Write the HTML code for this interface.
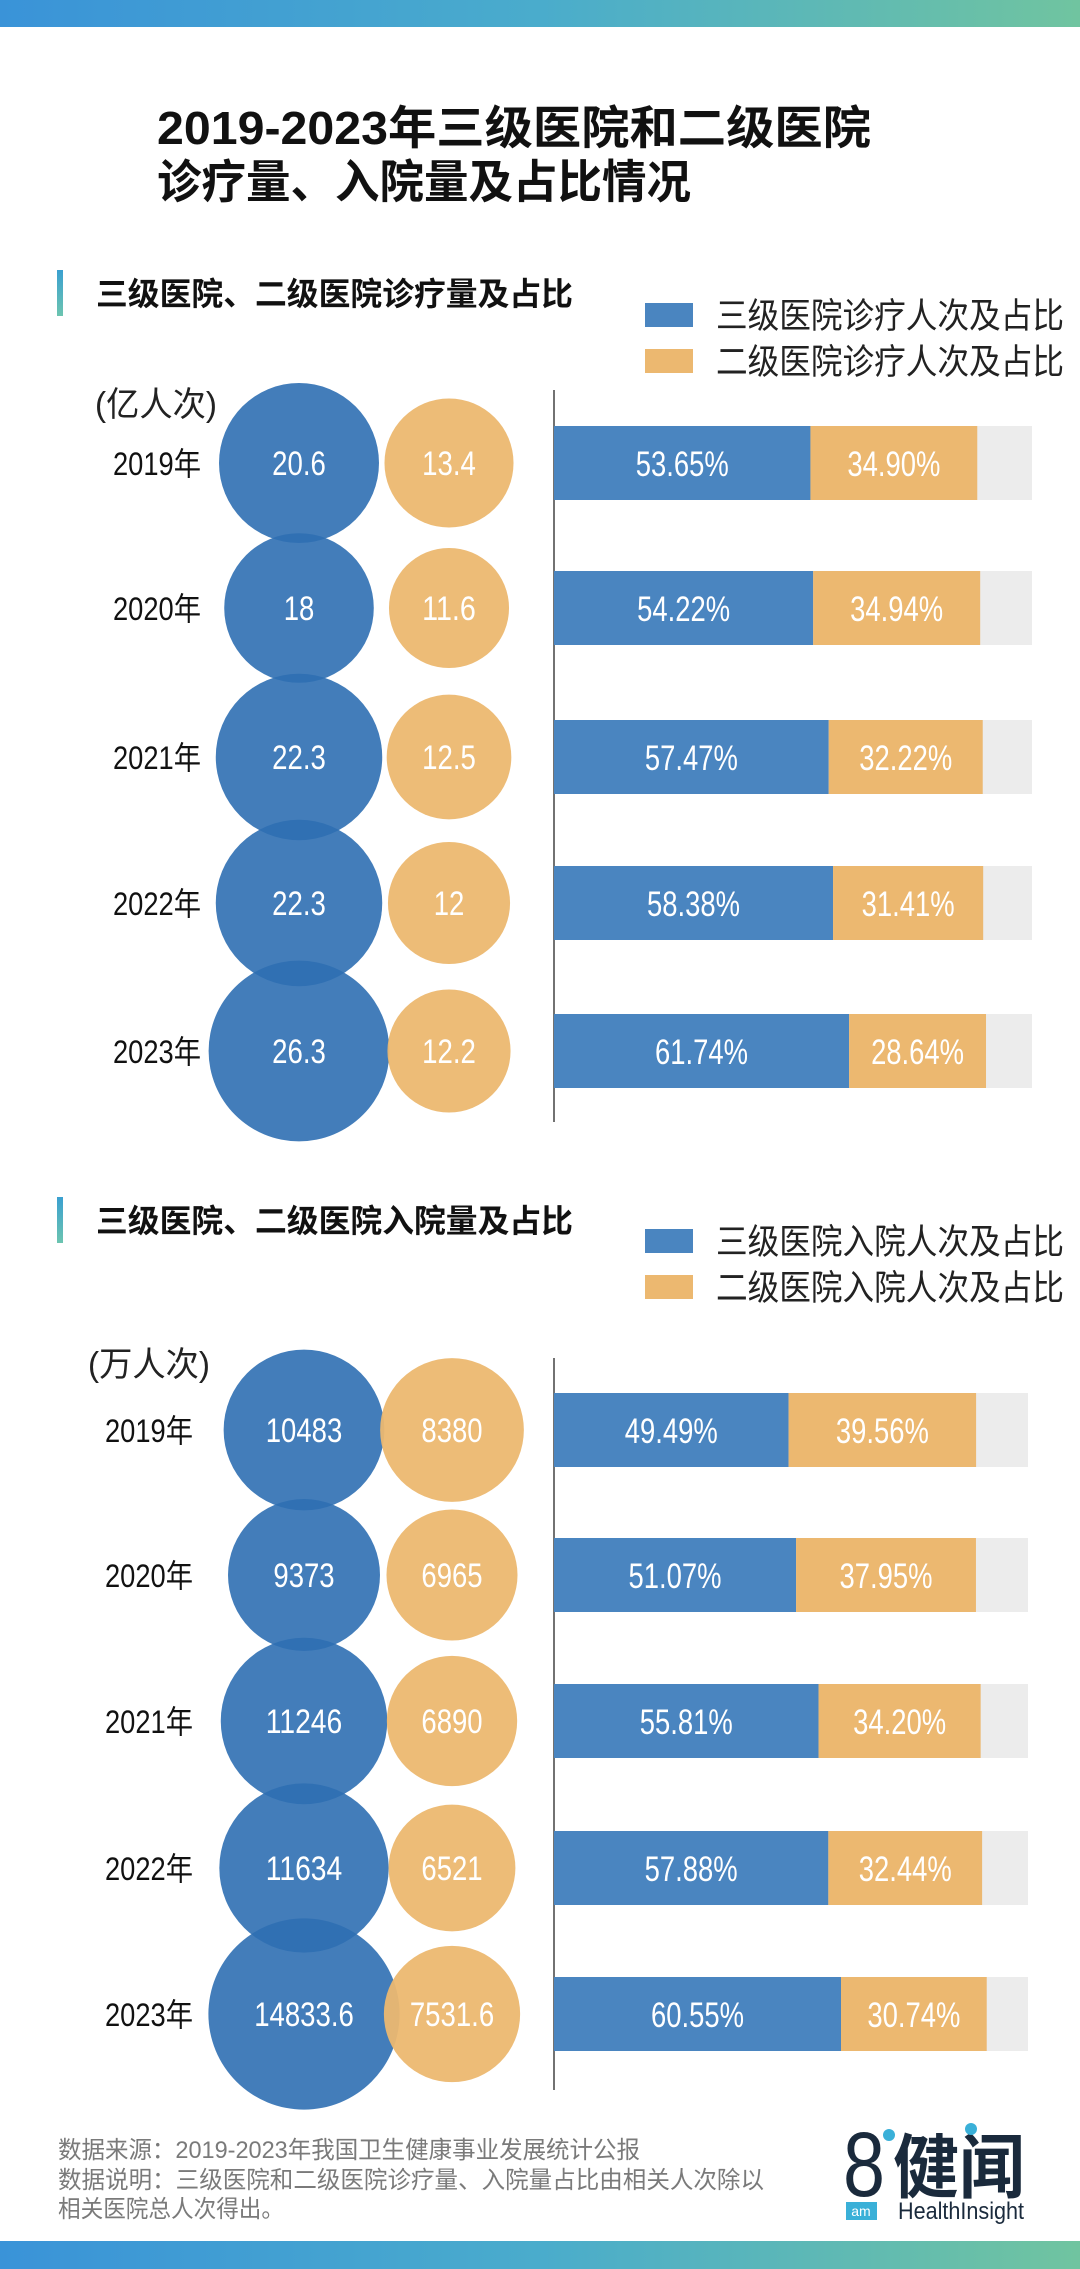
<!DOCTYPE html>
<html><head><meta charset="utf-8"><style>
html,body{margin:0;padding:0;background:#fff;}
svg{display:block;}
text{font-family:"Liberation Sans","Noto Sans CJK SC",sans-serif;}
</style></head><body>
<svg id="chart" width="1080" height="2269" viewBox="0 0 1080 2269" xmlns="http://www.w3.org/2000/svg">
<defs>
<linearGradient id="gb" x1="0" x2="1" y1="0" y2="0"><stop offset="0" stop-color="#3a93d8"/><stop offset="0.5" stop-color="#4aaccc"/><stop offset="1" stop-color="#70c4a0"/></linearGradient>
<linearGradient id="gs" x1="0" x2="0" y1="0" y2="1"><stop offset="0" stop-color="#3aa0d0"/><stop offset="1" stop-color="#6cc4b0"/></linearGradient>
</defs>
<rect x="0" y="0" width="1080" height="27" fill="url(#gb)"/>
<rect x="0" y="2241" width="1080" height="28" fill="url(#gb)"/>
<text x="157" y="144" font-size="46" font-weight="bold" fill="#111" textLength="714" lengthAdjust="spacingAndGlyphs">2019-2023年三级医院和二级医院</text>
<text x="157" y="198" font-size="46" font-weight="bold" fill="#111" textLength="534" lengthAdjust="spacingAndGlyphs">诊疗量、入院量及占比情况</text>
<g id="s1"></g>
<g id="s2"></g>
<text x="58" y="2158" font-size="24" fill="#7a7a7a" textLength="582" lengthAdjust="spacingAndGlyphs">数据来源：2019-2023年我国卫生健康事业发展统计公报</text>
<text x="58" y="2188" font-size="24" fill="#7a7a7a" textLength="706" lengthAdjust="spacingAndGlyphs">数据说明：三级医院和二级医院诊疗量、入院量占比由相关人次除以</text>
<text x="58" y="2217" font-size="24" fill="#7a7a7a" textLength="226" lengthAdjust="spacingAndGlyphs">相关医院总人次得出。</text>
<g>
<text x="843" y="2196" font-size="92" fill="#1a2a3c" textLength="42" lengthAdjust="spacingAndGlyphs">8</text>
<circle cx="889" cy="2135" r="6" fill="#3ab0d8"/>
<text x="893" y="2192" font-size="70" font-weight="bold" fill="#1a2a3c" textLength="132" lengthAdjust="spacingAndGlyphs" font-family="Noto Sans CJK SC, sans-serif">健闻</text>
<circle cx="971" cy="2129" r="6" fill="#3ab0d8"/>
<rect x="846" y="2202" width="31" height="18" fill="#3ab0d8"/>
<text x="861" y="2216" font-size="14" fill="#fff" text-anchor="middle">am</text>
<text x="898" y="2219" font-size="24" fill="#1a2a3c" textLength="126" lengthAdjust="spacingAndGlyphs">HealthInsight</text>
</g>
</svg>
<script>
var years = ["2019年","2020年","2021年","2022年","2023年"];
var visits3 = [20.6, 18, 22.3, 22.3, 26.3];
var visits2 = [13.4, 11.6, 12.5, 12, 12.2];
var visitShare3 = [53.65, 54.22, 57.47, 58.38, 61.74];
var visitShare2 = [34.90, 34.94, 32.22, 31.41, 28.64];
var adm3 = [10483, 9373, 11246, 11634, 14833.6];
var adm2 = [8380, 6965, 6890, 6521, 7531.6];
var admShare3 = [49.49, 51.07, 55.81, 57.88, 60.55];
var admShare2 = [39.56, 37.95, 34.20, 32.44, 30.74];

var NS = "http://www.w3.org/2000/svg";
function mk(parent, tag, attrs, txt){
  var e = document.createElementNS(NS, tag);
  for (var k in attrs) e.setAttribute(k, attrs[k]);
  if (txt !== undefined) e.textContent = txt;
  parent.appendChild(e);
  return e;
}
function narrowLen(s, fs){
  var w = 0;
  for (var i=0;i<s.length;i++){
    var ch = s[i];
    if (ch === '%') w += 0.72;
    else if (ch === '.') w += 0.23;
    else if (ch.charCodeAt(0) > 255) w += 0.9;
    else w += 0.45;
  }
  return w*fs;
}
function section(g, cfg){
  var h = mk(g,'rect',{x:57,y:cfg.hy-23,width:6,height:46,fill:'url(#gs)'});
  
  
  var t = mk(g,'text',{x:96,y:cfg.hy+12,'font-size':32,'font-weight':'bold',fill:'#111',textLength:477,lengthAdjust:'spacingAndGlyphs'},cfg.title);
  
  
  var cols=['#4a85c0','#ecb870'];
  for (var i=0;i<2;i++){
    var ly = cfg.ly + i*46;
    var sq = mk(g,'rect',{x:645,y:ly-12,width:48,height:24,fill:cols[i]});
    
    
    var lt = mk(g,'text',{x:716,y:ly+13,'font-size':35,fill:'#222',textLength:348,lengthAdjust:'spacingAndGlyphs'},cfg.legend[i]);
    
    
  }
  var u = mk(g,'text',{x:cfg.ux,y:cfg.uy+12,'font-size':34,fill:'#222',textLength:122,lengthAdjust:'spacingAndGlyphs'},cfg.unit);
  
  
  var ax = mk(g,'line',{x1:554,x2:554,y1:cfg.axTop,y2:cfg.axBot,stroke:'#444','stroke-width':1.5});
  
  
  var bx=554, bw=cfg.bw;
  function xs(p){return p/100*bw;}
  for (var i=0;i<years.length;i++){
    var cy = cfg.rows[i];
    var yl = mk(g,'text',{x:cfg.yx,y:cy+12,'font-size':32,fill:'#111',textLength:88,lengthAdjust:'spacingAndGlyphs'},years[i]);
    
    
    var r3 = cfg.k*Math.sqrt(cfg.v3[i])/2;
    var c = mk(g,'circle',{cx:cfg.c3x,cy:cy,r:r3,fill:'#2f6fb3','fill-opacity':0.9});
    
    
  }
  for (var i=0;i<years.length;i++){
    var cy = cfg.rows[i];
    var r2 = cfg.k*Math.sqrt(cfg.v2[i])/2;
    var c2 = mk(g,'circle',{cx:cfg.c2x,cy:cy,r:r2,fill:'#ecb870','fill-opacity':0.95});
    
    
    var s3 = String(cfg.v3[i]), s2 = String(cfg.v2[i]);
    var t3 = mk(g,'text',{x:cfg.c3x,y:cy+12,'font-size':34,fill:'#fff','text-anchor':'middle',textLength:narrowLen(s3,34),lengthAdjust:'spacingAndGlyphs'},s3);
    
    
    var t2 = mk(g,'text',{x:cfg.c2x,y:cy+12,'font-size':34,fill:'#fff','text-anchor':'middle',textLength:narrowLen(s2,34),lengthAdjust:'spacingAndGlyphs'},s2);
    
    
    var gr = mk(g,'rect',{x:bx,y:cy-37,width:bw,height:74,fill:'#ececec'});
    
    
    var w3 = xs(cfg.s3[i]), w2 = xs(cfg.s2[i]);
    var b3 = mk(g,'rect',{x:bx,y:cy-37,width:w3,height:74,fill:'#4a85c0'});
    
    
    var b2 = mk(g,'rect',{x:bx+w3,y:cy-37,width:w2,height:74,fill:'#ecb870'});
    
    
    var l3 = cfg.s3[i].toFixed(2)+'%', l2 = cfg.s2[i].toFixed(2)+'%';
    var p3 = mk(g,'text',{x:bx+w3/2,y:cy+13,'font-size':35,fill:'#fff','text-anchor':'middle',textLength:93,lengthAdjust:'spacingAndGlyphs'},l3);
    
    
    var p2 = mk(g,'text',{x:bx+w3+w2/2,y:cy+13,'font-size':35,fill:'#fff','text-anchor':'middle',textLength:93,lengthAdjust:'spacingAndGlyphs'},l2);
    
    
  }
}
section(document.getElementById('s1'),{
  title:'三级医院、二级医院诊疗量及占比', hy:293, ly:315,
  legend:['三级医院诊疗人次及占比','二级医院诊疗人次及占比'],
  unit:'(亿人次)', ux:95, uy:404, yx:113,
  axTop:390, axBot:1122, bw:478,
  rows:[463,608,757,903,1051], c3x:299, c2x:449, k:35.25,
  v3:visits3, v2:visits2, s3:visitShare3, s2:visitShare2
});
section(document.getElementById('s2'),{
  title:'三级医院、二级医院入院量及占比', hy:1220, ly:1241,
  legend:['三级医院入院人次及占比','二级医院入院人次及占比'],
  unit:'(万人次)', ux:88, uy:1364, yx:105,
  axTop:1358, axBot:2090, bw:474,
  rows:[1430,1575,1721,1868,2014], c3x:304, c2x:452, k:1.57,
  v3:adm3, v2:adm2, s3:admShare3, s2:admShare2
});
</script>
</body></html>
